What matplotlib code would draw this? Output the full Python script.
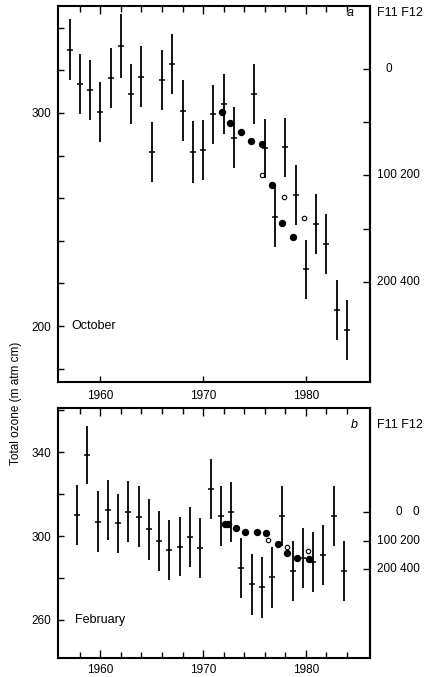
import numpy as np
import matplotlib.pyplot as plt
from matplotlib.lines import Line2D, TICKUP, TICKDOWN
from matplotlib.ticker import MultipleLocator, FixedLocator, FuncFormatter, NullFormatter
from matplotlib.transforms import blended_transform_factory

plt.rcParams['font.family'] = ['Liberation Sans', 'DejaVu Sans']
plt.rcParams['font.size'] = 8.5

#   October monthly means with error half-widths (1974 missing)
oct_years = [1957, 1958, 1959, 1960, 1961, 1962, 1963, 1964, 1965, 1966,
             1967, 1968, 1969, 1970, 1971, 1972, 1973, 1975, 1976, 1977,
             1978, 1979, 1980, 1981, 1982, 1983, 1984]
oct_ozone = [329.6, 313.6, 310.8, 300.5, 316.4, 331.5, 308.9, 317.0, 281.7, 315.5,
             323.0, 301.0, 281.7, 282.6, 299.3, 304.2, 288.4, 308.8, 283.4, 251.3,
             283.8, 261.5, 226.6, 247.9, 238.5, 207.5, 198.1]
oct_err = [14.3, 14, 14, 14, 14, 15, 14, 14.3, 14, 14,
           14, 14.3, 14.4, 14, 14, 14, 14.3, 14, 14, 14.2,
           14, 14, 14, 14, 14, 14, 14]

#   Halocarbon points for the October panel (right-hand scale)
oct_f11_years = [1971.8, 1972.6, 1973.7, 1974.7, 1975.7, 1976.7, 1977.7, 1978.8]
oct_f11 = [40.5, 50.4, 58.8, 67.2, 70.4, 108.7, 145.0, 157.7]
oct_f12_years = [1975.75, 1977.9, 1979.8]
oct_f12 = [199, 240, 280]

#   February monthly means
feb_years = [1958, 1959, 1960, 1961, 1962, 1963, 1964, 1965, 1966, 1967,
             1968, 1969, 1970, 1971, 1972, 1973, 1974, 1975, 1976, 1977,
             1978, 1979, 1980, 1981, 1982, 1983, 1984]
feb_ozone = [310.0, 338.6, 306.8, 312.4, 306.0, 311.6, 309.2, 303.2, 297.8, 293.3,
             294.9, 299.4, 294.1, 322.2, 309.5, 311.6, 284.6, 277.1, 275.6, 280.3,
             309.5, 283.3, 289.4, 287.8, 291.0, 309.5, 283.3]
feb_err = [14.5, 14, 14.5, 14.5, 14, 14.5, 14.5, 14.5, 14.3, 14.3,
           14, 14.3, 14.3, 14.3, 14.3, 14.3, 14.3, 14.5, 14.5, 14.5,
           14.3, 14.3, 14.3, 14.3, 14.3, 14.3, 14.3]

feb_f11_years = [1972.1, 1972.45, 1973.25, 1974.1, 1975.25, 1976.1, 1977.25,
                 1978.2, 1979.15, 1980.3]
feb_f11 = [41, 41, 56, 69, 69, 74, 113, 144, 159, 163]
feb_f12_years = [1976.35, 1978.15, 1980.2]
feb_f12 = [195, 242, 272]

decades = [1960, 1970, 1980]
even_years = [1958, 1962, 1964, 1966, 1968, 1972, 1974, 1976, 1978, 1982, 1984]

#   Linear link between the F11 scale and total ozone in each panel
oct_scale = (320.5, 0.4985)
feb_scale = (311.3, 0.1355)


def f11_to_ozone(v, scale):
    return scale[0] - scale[1] * np.asarray(v, dtype=float)


def ozone_to_f11(v, scale):
    return (scale[0] - np.asarray(v, dtype=float)) / scale[1]


fig = plt.figure(figsize=(4.29, 6.77), dpi=100)
ax1 = fig.add_axes([0.1352, 0.4357, 0.7273, 0.5554])
ax2 = fig.add_axes([0.1352, 0.0281, 0.7273, 0.3693])

xlim = (1955.87, 1986.25)


def draw_panel(ax, years, ozone, err, f11_years, f11, f12_years, f12, scale):
    ax.errorbar(years, ozone, yerr=err, fmt='_', color='k', ms=5, mew=1.1,
                elinewidth=1.3, capsize=0)
    ax.plot(f11_years, f11_to_ozone(f11, scale), 'o', color='k', ms=4.3)
    ax.plot(f12_years, f11_to_ozone(np.array(f12) / 2, scale), 'o', mfc='white',
            mec='k', mew=0.8, ms=3.2)
    ax.set_xlim(*xlim)
    for sp in ax.spines.values():
        sp.set_linewidth(1.5)


draw_panel(ax1, oct_years, oct_ozone, oct_err,
           oct_f11_years, oct_f11, oct_f12_years, oct_f12, oct_scale)
draw_panel(ax2, np.array(feb_years) - 0.28, feb_ozone, feb_err,
           feb_f11_years, feb_f11, feb_f12_years, feb_f12, feb_scale)

ax1.set_ylim(173.7, 350.2)
ax2.set_ylim(241.9, 361.0)

#   Left ozone axes: ticks every 20, labels only at a few values
ax1.yaxis.set_major_locator(FixedLocator([200, 300]))
ax2.yaxis.set_major_locator(FixedLocator([260, 300, 340]))
for ax in (ax1, ax2):
    ax.yaxis.set_minor_locator(MultipleLocator(20))
    ax.tick_params(axis='y', which='both', direction='in', length=4.5, width=1, pad=5)
    ax.yaxis.set_major_formatter(FuncFormatter(lambda v, p: f'{v:.0f}'))

#   Year axes: labels from the axis, tick marks added on top of everything
for ax in (ax1, ax2):
    ax.xaxis.set_major_locator(FixedLocator(decades))
    ax.xaxis.set_minor_locator(FixedLocator([]))
ax1.tick_params(axis='x', which='major', length=0, pad=6)
ax2.tick_params(axis='x', which='major', length=0, pad=4)


def edge_ticks(ax, xs, edge, size):
    marker = TICKUP if edge == 0 else TICKDOWN
    tr = blended_transform_factory(ax.transData, ax.transAxes)
    fig.add_artist(Line2D(xs, [edge] * len(xs), ls='none', marker=marker, ms=size,
                          mew=1, color='k', transform=tr, zorder=10))


for ax in (ax1, ax2):
    edge_ticks(ax, decades, 1, 6)
    edge_ticks(ax, even_years, 1, 4)
edge_ticks(ax1, decades, 0, 4.5)
edge_ticks(ax2, decades, 0, 6)
edge_ticks(ax2, even_years, 0, 4)

#   Right-hand halocarbon scales (ticks only, labels drawn as text)
right_ticks = {ax1: [0, 50, 100, 150, 200], ax2: [0, 100, 200]}
scales = {ax1: oct_scale, ax2: feb_scale}
for ax in (ax1, ax2):
    sc = scales[ax]
    sec = ax.secondary_yaxis('right', functions=(lambda v, s=sc: ozone_to_f11(v, s),
                                                 lambda v, s=sc: f11_to_ozone(v, s)))
    sec.yaxis.set_major_locator(FixedLocator(right_ticks[ax]))
    sec.yaxis.set_major_formatter(NullFormatter())
    sec.yaxis.set_minor_locator(FixedLocator([]))
    sec.tick_params(axis='y', direction='in', length=5, width=1)
    sec.spines['right'].set_linewidth(1.5)

tr1 = blended_transform_factory(ax1.transAxes, ax1.transData)
tr2 = blended_transform_factory(ax2.transAxes, ax2.transData)
ax1.text(1.061, f11_to_ozone(0, oct_scale), '0', transform=tr1, ha='center', va='center')
ax1.text(1.022, f11_to_ozone(100, oct_scale), '100 200', transform=tr1, ha='left', va='center')
ax1.text(1.022, f11_to_ozone(200, oct_scale), '200 400', transform=tr1, ha='left', va='center')
ax2.text(1.091, f11_to_ozone(0, feb_scale), '0', transform=tr2, ha='center', va='center')
ax2.text(1.146, f11_to_ozone(0, feb_scale), '0', transform=tr2, ha='center', va='center')
ax2.text(1.022, f11_to_ozone(100, feb_scale), '100 200', transform=tr2, ha='left', va='center')
ax2.text(1.022, f11_to_ozone(200, feb_scale), '200 400', transform=tr2, ha='left', va='center')

ax1.text(1.022, 0.981, 'F11 F12', transform=ax1.transAxes, ha='left', va='center', fontsize=9)
ax2.text(1.022, 0.93, 'F11 F12', transform=ax2.transAxes, ha='left', va='center', fontsize=9)
ax1.text(0.935, 0.981, 'a', transform=ax1.transAxes, style='italic', ha='center', va='center', fontsize=9)
ax2.text(0.95, 0.93, 'b', transform=ax2.transAxes, style='italic', ha='center', va='center', fontsize=9)

ax1.text(1957.13, 200, 'October', ha='left', va='center', fontsize=9)
ax2.text(1957.5, 260, 'February', ha='left', va='center', fontsize=9)

fig.text(0.037, 1 - 403 / 677, 'Total ozone (m atm cm)', rotation=90,
         ha='center', va='center', fontsize=8.5)

fig.savefig('out.png', dpi=100)
